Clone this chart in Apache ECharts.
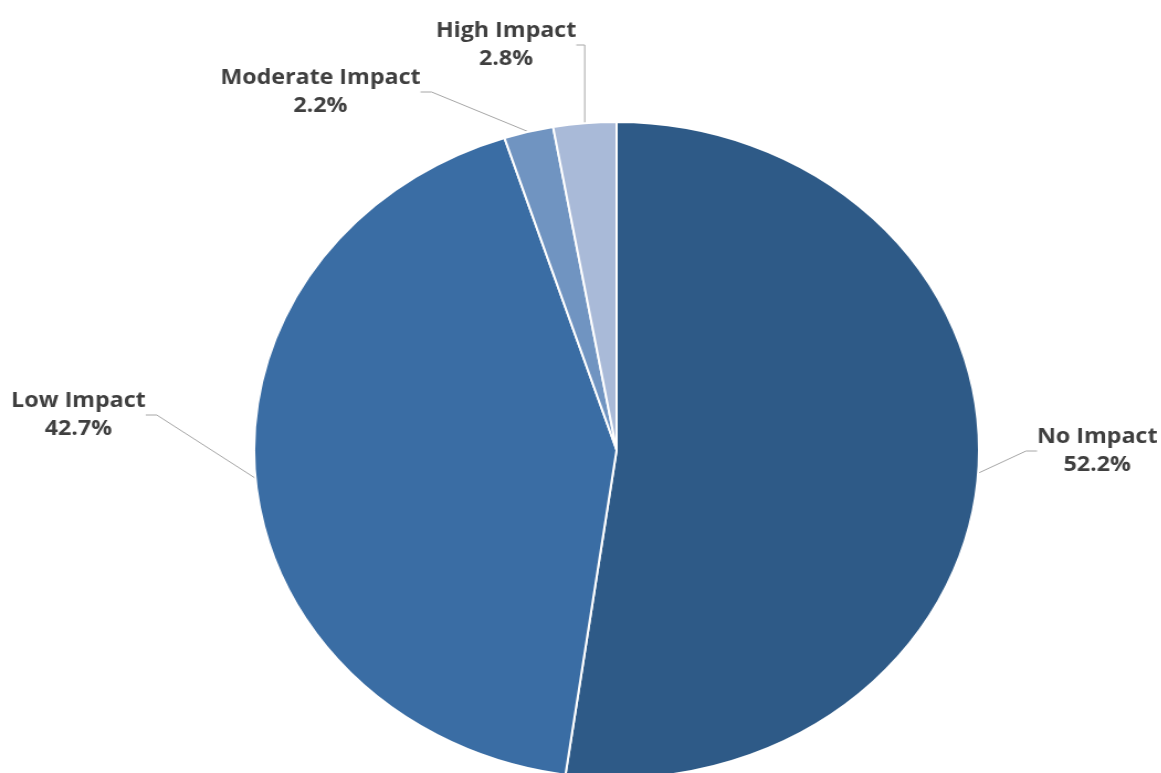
<!DOCTYPE html>
<html>
<head>
<meta charset="utf-8">
<script src="https://cdn.jsdelivr.net/npm/echarts@6/dist/echarts.min.js"></script>
<style>
	html, body { margin: 0; padding: 0; background: #fff; overflow: hidden; }
	/* the reference is stretched sideways, so the chart is too */
	#wrap { width: 1161px; height: 773px; overflow: hidden; }
	#main { width: 1051px; height: 773px; transform: scaleX(1.105); transform-origin: 0 0; }
</style>
</head>
<body>
<div id="wrap"><div id="main"></div></div>
<script>
	// 数据
	const categories = ['No Impact', 'Low Impact', 'Moderate Impact', 'High Impact'];
	const shares = [52.2, 42.7, 2.2, 2.8];
	const colors = ['#2e5a87', '#3a6da4', '#7094c1', '#a9bad8'];

	// label spots (unscaled px)
	const labelSpots = [
		{ x: 993, y: 451 },
		{ x: 71, y: 415 },
		{ x: 290, y: 92 },
		{ x: 458, y: 45 }
	];

	const chart = echarts.init(document.getElementById('main'));

	const option = {
		animation: false,
		series: [{
			type: 'pie',
			center: [558, 450],
			radius: 328,
			startAngle: 90,
			clockwise: true,
			avoidLabelOverlap: false,
			data: categories.map((name, i) => ({
				name: name,
				value: shares[i],
				itemStyle: { color: colors[i] }
			})),
			itemStyle: {
				borderColor: '#ffffff',
				borderWidth: 2
			},
			label: {
				show: true,
				formatter: p => p.name + '\n' + p.value.toFixed(1) + '%',
				fontFamily: 'Open Sans',
				fontWeight: 'bold',
				fontSize: 21,
				lineHeight: 28,
				color: '#3f3f3f',
				align: 'center'
			},
			labelLine: {
				show: true,
				length: 20,
				length2: 10,
				lineStyle: { color: '#a6a6a6', width: 1 }
			},
			labelLayout: function (params) {
				const s = labelSpots[params.dataIndex];
				return {
					x: s.x,
					y: s.y,
					align: 'center',
					verticalAlign: 'middle'
				};
			}
		}]
	};

	chart.setOption(option);
</script>
</body>
</html>
